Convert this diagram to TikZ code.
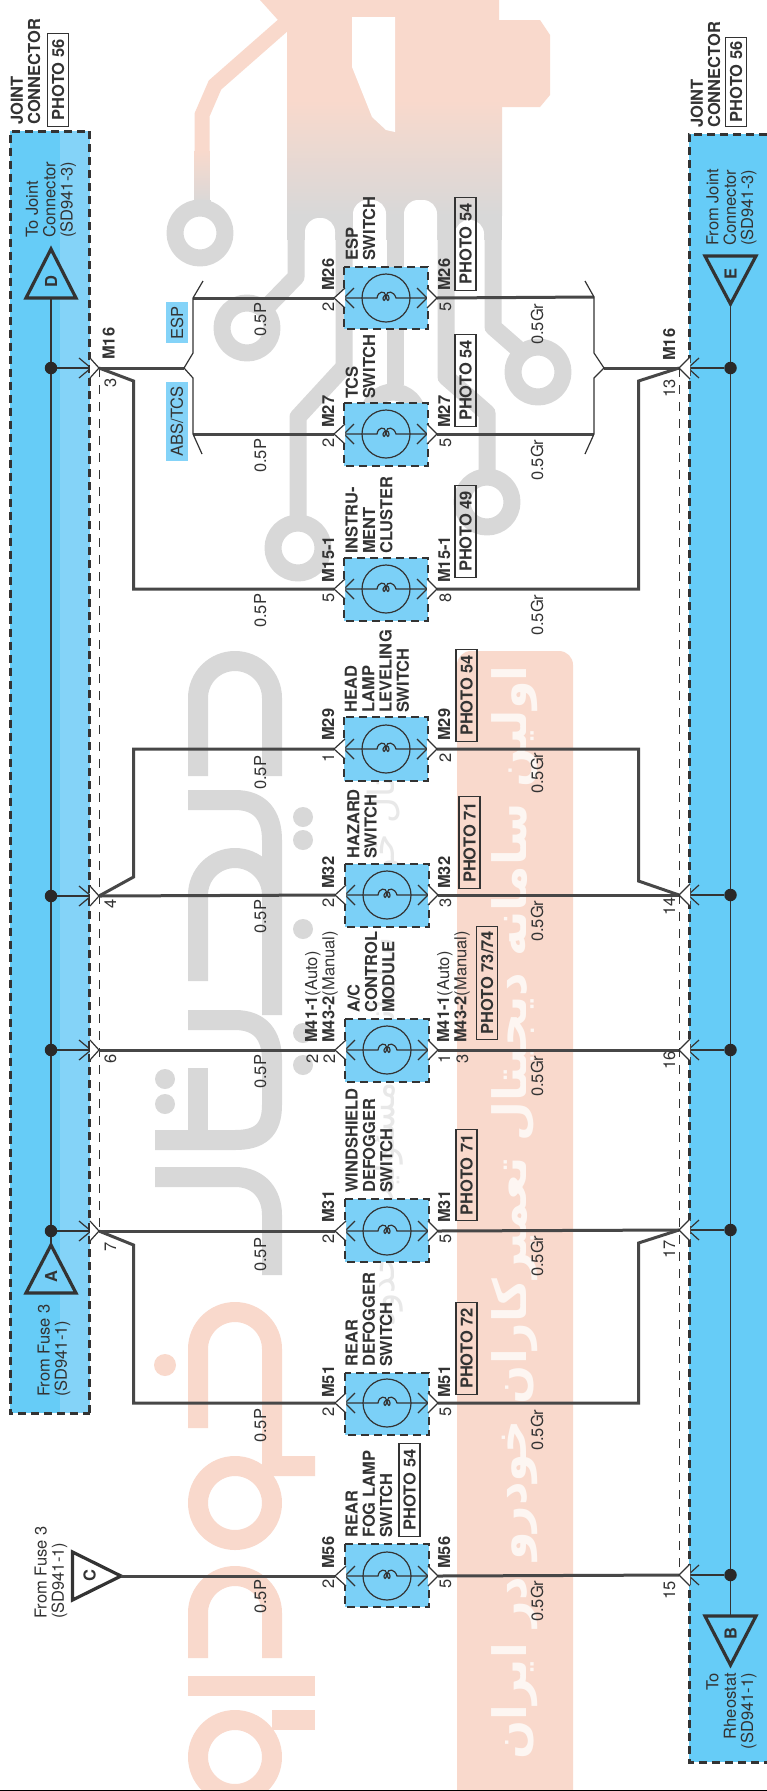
\documentclass[tikz,border=0pt]{standalone}
\usepackage{fontspec}
\setmainfont{TeX Gyre Heros}
\newfontfamily\arabicfont[Script=Arabic]{DejaVu Sans}
\TeXXeTstate=1
\definecolor{bandA}{HTML}{66CCF7}
\definecolor{bandB}{HTML}{84D3F8}
\definecolor{modfill}{HTML}{7BD0F7}
\definecolor{ink}{HTML}{333333}
\definecolor{wmg}{HTML}{D8D8D8}
\definecolor{wmp}{HTML}{F9D9CC}
\tikzset{
 wire/.style={draw=ink!90!white,line width=3pt,line join=miter},
 fine/.style={draw=ink,line width=1.2pt},
 banddash/.style={draw=ink,line width=3pt,dash pattern=on 8pt off 5pt},
 moddash/.style={draw=ink,line width=2.6pt,dash pattern=on 8pt off 5pt},
 thindash/.style={draw=ink,line width=1pt,dash pattern=on 9pt off 8pt},
 lbl/.style={rotate=90,anchor=west,inner sep=0pt,text height=12pt,text depth=0pt,text=ink,font=\fontsize{16.5}{17.3}\selectfont},
 blbl/.style={lbl,font=\fontsize{16.5}{17.3}\selectfont\bfseries},
 mlbl/.style={rotate=90,anchor=west,inner sep=0pt,align=left,text=ink,font=\fontsize{16.5}{17.3}\selectfont},
 mblbl/.style={mlbl,font=\fontsize{16.5}{17.3}\selectfont\bfseries},
 photo/.style={blbl,draw=ink,line width=1.1pt,minimum height=21pt,text height=12pt},
 tag/.style={rotate=90,anchor=center,inner sep=0pt,fill=bandB,text=ink,minimum height=22pt,font=\fontsize{16.5}{17.3}\selectfont},
 tri/.style={draw=ink,line width=3.2pt,line join=miter},
 trilet/.style={rotate=90,inner sep=0pt,text=ink,font=\fontsize{16.5}{17}\selectfont\bfseries},
 dot/.style={circle,fill=ink!80!black,inner sep=0pt,minimum size=12.5pt},
 gs/.style={draw=wmg,line width=17pt,line join=round},
 gm/.style={draw=wmg,line width=20pt,line join=round},
 pm/.style={draw=wmp,line width=20pt,line join=round},
}
\begin{document}
\begin{tikzpicture}[x=1pt,y=-1pt]
\useasboundingbox (0,0) rectangle (767,1791);
\fill[white] (0,0) rectangle (767,1791);
% ---- watermark: logo ----
\fill[wmp] (260,0) -- (499,0) -- (499,20) -- (540,20) -- (550,35) -- (550,95) -- (540,107) -- (502,107) -- (502,100) -- (287,100) -- (287,30) -- cycle;
\draw[draw=wmp,line width=15pt] (289,20) -- (215,85) -- (202,115) -- (202,150);
\shade[top color=wmp,bottom color=wmg] (287,100) rectangle (502,215);
\shade[top color=wmp,bottom color=wmg] (194.5,150) rectangle (209.5,205);
\fill[wmg] (287,215) rectangle (502,240);
\fill[white] (352,17) -- (395,17) -- (395,132) -- (386,130) -- (372,117) -- (352,67) -- cycle;
\fill[white,rounded corners=14pt] (305,218) rectangle (335,270);
\fill[white,rounded corners=14pt] (353,200) rectangle (386,270);
\fill[white,rounded corners=14pt] (404,200) rectangle (437,270);
\fill[white,rounded corners=14pt] (455,220) rectangle (484,270);
\draw[gs] (296,235) -- (296,277) -- (262,312);
\draw[gs] (344,235) -- (344,367) -- (298,417) -- (298,523);
\draw[gs] (395,235) -- (395,385);
\draw[gs] (446,235) -- (446,377) -- (487,413) -- (487,477);
\draw[gs] (493,235) -- (493,327) -- (525,355);
\draw[gs] (202,200) -- (202,210);
\foreach \rx/\ry in {200/233,247/328,393/417,538/372,298/548,487/502}{
 \draw[gs] (\rx,\ry) circle[radius=25pt];
}
% ---- watermark: large letters ----
\draw[gm] (198,776) -- (198,698) arc[start angle=180,end angle=0,radius=37pt] -- (272,776);
\draw[gm] (188,800) -- (235,800) .. controls (260,800) and (272,815) .. (272,840) -- (272,1015);
\draw[gm] (198,981) -- (198,895) arc[start angle=180,end angle=0,radius=37pt];
\draw[gm] (188,1020) -- (235,1020) .. controls (260,1020) and (272,1035) .. (272,1060) -- (272,1105) .. controls (272,1130) and (260,1140) .. (235,1140) -- (155,1140);
\draw[gm] (198,1068) -- (198,1140);
\draw[gm] (155,1177) -- (235,1177) .. controls (260,1177) and (272,1195) .. (272,1215) -- (272,1275);
\foreach \dx/\dy in {303/817,303/840,303/929,303/1033,303/1065,165/1079,165/1104}{
 \fill[wmg] (\dx,\dy) circle[radius=10pt];
}
\draw[pm] (198,1428) -- (198,1349) arc[start angle=180,end angle=0,radius=37pt] -- (272,1466) -- (315,1466);
\fill[wmp] (165,1365) circle[radius=11pt];
\draw[pm] (235,1503) circle[radius=37pt];
\draw[pm] (198,1658) -- (198,1613) arc[start angle=180,end angle=0,radius=37pt] -- (272,1658);
\draw[pm] (188,1685.5) -- (315,1685.5);
\draw[pm] (272,1720) -- (315,1720);
\draw[pm] (235,1757) circle[radius=37pt];
\node[rotate=90,anchor=east,inner sep=0pt,text=wmg!60!white,font=\fontsize{36}{38}\arabicfont] (wm1) at (385,715) {\beginR دیجیتال خودرو سامانه با مسئولیت محدود\endR};
\fill[wmp,rounded corners=14pt] (457,651) rectangle (573,1810);
\node[rotate=90,anchor=east,inner sep=0pt,text=white!75!wmp,font=\fontsize{46}{48}\arabicfont\bfseries] (wm2) at (515,665) {\beginR اولین سامانه دیجیتال تعمیرکاران خودرو در ایران\endR};
% ---- bands ----
\fill[bandA] (10,131) rectangle (60,1413);
\fill[bandB] (60,131) rectangle (89.5,1413);
\fill[bandA] (689,134) rectangle (767,1762);
\draw[banddash] (89.5,1413) -- (89.5,131) -- (10,131) -- (10,1413) -- cycle;
\draw[banddash] (767,134) -- (689,134) -- (689,1762) -- (767,1762);
% ---- coordinates ----
\coordinate (tD) at (51,298);
\coordinate (tA) at (51,1245);
\coordinate (tE) at (730.5,304);
\coordinate (tB) at (730.5,1616);
\coordinate (tC) at (121,1576);
\coordinate (ltop) at (99,368);
\coordinate (lbot) at (99,1231);
\coordinate (rtop) at (679,368);
\coordinate (rbot) at (679,1575);
% ---- buses, dashed rails ----
\draw[fine] (tD) -- (tA);
\draw[fine] (tE) -- (tB);
\draw[thindash] (ltop) -- (lbot);
\draw[thindash] (rtop) -- (rbot);
% ---- triangles ----
\draw[tri,fill=bandA] (51,249) -- (76,298) -- (26,298) -- cycle;
\draw[tri,fill=bandB!50!bandA] (51,1245) -- (76,1293) -- (26,1293) -- cycle;
\draw[tri,fill=bandA] (705,256) -- (756,256) -- (730.5,304) -- cycle;
\draw[tri,fill=bandA] (705,1616) -- (756,1616) -- (730.5,1665) -- cycle;
\draw[tri,fill=white] (72.5,1552) -- (121,1576) -- (72.5,1600) -- cycle;
\node[trilet] (lD) at (51,282) {D};
\node[trilet] (lA) at (51,1277) {A};
\node[trilet] (lE) at (730.5,274) {E};
\node[trilet] (lB) at (730.5,1634) {B};
\node[trilet] (lC) at (89.5,1576) {C};
% ---- modules ----
\foreach \n/\y/\t/\b/\d in {esp/298/267/329/0,tcs/434/403/466/0,ins/589/558/621/0,hea/749/717/781/0,haz/895/864/927/1,acm/1050/1019/1082/1,win/1231/1199/1262/1,rea/1403/1373/1435/1,fog/1576/1544/1607/1}{
 \fill[modfill] (344+\d,\t) rectangle (428+\d,\b);
 \coordinate (\n-L) at (334+\d,\y);
 \coordinate (\n-R) at (437+\d,\y);
 \coordinate (\n-a) at (344+\d,\y);
 \coordinate (\n-b) at (427+\d,\y);
 \draw[moddash] (344+\d,\t) rectangle (428+\d,\b);
 \node[circle,draw=ink,line width=1.2pt,minimum size=48pt,inner sep=0pt] (\n-c) at (386+\d,\y) {};
 \draw[fine] (\n-a) -- (377+\d,\y) .. controls (378+\d,\y-7) and (385+\d,\y-8) .. (386+\d,\y-2) .. controls (387+\d,\y+4) and (389+\d,\y+3) .. (389+\d,\y) .. controls (389+\d,\y-4) and (384+\d,\y-4) .. (383+\d,\y) .. controls (383+\d,\y+3) and (385+\d,\y+4) .. (386+\d,\y-2) .. controls (387+\d,\y-8) and (394+\d,\y-7) .. (396+\d,\y) -- (\n-b);
 \draw[fine] (354+\d,\y-10) -- (\n-a) -- (354+\d,\y+10);
 \draw[fine] (417+\d,\y-10) -- (\n-b) -- (417+\d,\y+10);
}
% ---- junctions ----
\foreach \n/\y in {a/368,b/896,c/1050,d/1231}{
 \node[dot] (ld\n) at (51,\y) {};
 \coordinate (lj\n) at (99,\y);
 \coordinate (la\n) at (91,\y);
 \draw[fine] (ld\n) -- (la\n);
 \draw[fine] (79,\y-10) -- (la\n) -- (79,\y+10);
}
\foreach \n/\y in {a/368,b/895,c/1050,d/1230,e/1575}{
 \node[dot] (rd\n) at (730.5,\y) {};
 \coordinate (rj\n) at (679,\y);
 \coordinate (ra\n) at (688,\y);
 \draw[fine] (rd\n) -- (ra\n);
 \draw[fine] (699,\y-10) -- (ra\n) -- (699,\y+10);
}
% ---- P wires ----
\coordinate (lbk) at (184,368);
\coordinate (rbk) at (604,368);
\coordinate (lesp) at (193,298);
\coordinate (ltcs) at (193,434);
\coordinate (resp) at (594,297);
\coordinate (rtcs) at (594,434);
\draw[wire] (lja) -- (lbk);
\draw[wire] (lesp) -- (esp-L);
\draw[wire] (ltcs) -- (tcs-L);
\draw[wire] (lja) -- (133.5,381) |- (ins-L);
\draw[wire] (ljb) -- (133.5,877) |- (hea-L);
\draw[wire] (ljb) -- (haz-L);
\draw[wire] (ljc) -- (acm-L);
\draw[wire] (ljd) -- (win-L);
\draw[wire] (ljd) -- (133.5,1245) |- (rea-L);
\draw[wire] (tC) -- (fog-L);
% ---- Gr wires ----
\draw[wire] (rja) -- (rbk);
\draw[wire] (esp-R) -- (resp);
\draw[wire] (tcs-R) -- (rtcs);
\draw[wire] (rja) -- (638.5,381) |- (ins-R);
\draw[wire] (rjb) -- (638.5,881) |- (hea-R);
\draw[wire] (rjb) -- (haz-R);
\draw[wire] (rjc) -- (acm-R);
\draw[wire] (rjd) -- (win-R);
\draw[wire] (rjd) -- (638.5,1243) |- (rea-R);
\draw[wire] (rje) -- (fog-R);
% ---- brackets ----
\draw[fine] (203,281) -- (lesp) -- (193,353) -- (lbk) -- (193,378) -- (ltcs) -- (202,454);
\draw[fine] (585,281) -- (resp) -- (594,353) -- (rbk) -- (594,378) -- (rtcs) -- (585,454);
% ---- chevrons ----
\foreach \n in {esp,tcs,ins,hea,haz,acm,win,rea,fog}{
 \path (\n-L) ++(11,-10) coordinate (\n-l1) ++(0,20) coordinate (\n-l2);
 \path (\n-R) ++(-10,-10) coordinate (\n-r1) ++(0,20) coordinate (\n-r2);
 \fill[white] (\n-l1) -- (\n-L) -- (\n-l2) -- cycle;
 \fill[white] (\n-r1) -- (\n-R) -- (\n-r2) -- cycle;
 \draw[fine] (\n-l1) -- (\n-L) -- (\n-l2);
 \draw[fine] (\n-r1) -- (\n-R) -- (\n-r2);
}
\foreach \n in {a,b,c,d}{
 \path (lj\n) ++(-9,-10) coordinate (lj\n-1) ++(0,20) coordinate (lj\n-2);
 \fill[white] (lj\n-1) -- (lj\n) -- (lj\n-2) -- cycle;
 \draw[fine] (lj\n-1) -- (lj\n) -- (lj\n-2);
}
\foreach \n in {a,b,c,d,e}{
 \path (rj\n) ++(11,-11) coordinate (rj\n-1) ++(0,22) coordinate (rj\n-2);
 \fill[white] (rj\n-1) -- (rj\n) -- (rj\n-2) -- cycle;
 \draw[fine] (rj\n-1) -- (rj\n) -- (rj\n-2);
}
% ---- bottom rule ----
\coordinate (ruleL) at (0,1790.5);
\coordinate (ruleR) at (767,1790.5);
\draw[black,line width=1.4pt] (ruleL) -- (ruleR);
% ---- band titles ----
\node[mblbl] (jc1) at (25.5,125) {JOINT\\CONNECTOR};
\node[photo,minimum width=93pt] (ph0) at (58,127) {PHOTO 56};
\node[mblbl] (jc2) at (705.5,128) {JOINT\\CONNECTOR};
\node[photo,minimum width=89pt] (ph0b) at (736,127) {PHOTO 56};
\node[mlbl] (t1) at (51,238) {To Joint\\Connector\\(SD941-3)};
\node[mlbl] (t2) at (731.5,246) {From Joint\\Connector\\(SD941-3)};
\node[mlbl] (t3) at (54,1397) {From Fuse 3\\(SD941-1)};
\node[mlbl] (t4) at (51,1619) {From Fuse 3\\(SD941-1)};
\node[mlbl,align=right,anchor=east] (t5) at (731.5,1673) {To\\Rheostat\\(SD941-1)};
\node[tag,minimum width=41pt] (tagE) at (177,322.5) {ESP};
\node[tag,minimum width=79pt] (tagA) at (177,421.5) {ABS/TCS};
% ---- M16 and junction numbers ----
\node[blbl] (m16a) at (108.6,360) {M16};
\node[blbl] (m16b) at (669,361) {M16};
\node[lbl] (n3) at (110,388) {3};
\node[lbl] (n4) at (110,909) {4};
\node[lbl] (n6) at (110,1064) {6};
\node[lbl] (n7) at (110,1252) {7};
\node[lbl] (n13) at (669,398) {13};
\node[lbl] (n14) at (669,916) {14};
\node[lbl] (n16) at (669,1070) {16};
\node[lbl] (n17) at (669,1259) {17};
\node[lbl] (n15) at (669,1600) {15};
% ---- wire sizes ----
\foreach \k/\p/\g in {a/337/345,b/473/481,c/628/636,d/790/794,e/934/942,f/1089/1097,g/1272/1277,h/1443/1451,i/1614/1622}{
 \node[lbl] (sp\k) at (260,\p) {0.5P};
 \node[lbl] (sg\k) at (537,\g) {0.5Gr};
}
% ---- connector ids and pins ----
\foreach \k/\m/\y/\pa/\pb/\py in {esp/M26/291/2/5/312,tcs/M27/428/2/5/448,ins/M15-1/583/5/8/603,hea/M29/741/1/2/763,haz/M32/889/2/3/908,win/M31/1223/2/5/1244,rea/M51/1398/2/5/1417,fog/M56/1569/2/5/1589}{
 \node[blbl] (\k-ml) at (328,\y) {\m};
 \node[blbl] (\k-mr) at (444,\y) {\m};
 \node[lbl] (\k-pl) at (328,\py) {\pa};
 \node[lbl] (\k-pr) at (445,\py) {\pb};
}
\node[mlbl] (acl) at (321.5,1043) {\textbf{M41-1}(Auto)\\\textbf{M43-2}(Manual)};
\node[mlbl] (acr) at (453.5,1043) {\textbf{M41-1}(Auto)\\\textbf{M43-2}(Manual)};
\node[lbl] (acp1) at (312,1064) {2};
\node[lbl] (acp2) at (329,1064) {2};
\node[lbl] (acp3) at (444,1064) {1};
\node[lbl] (acp4) at (462,1064) {3};
% ---- component names ----
\node[mblbl] (nm1) at (360.5,261) {ESP\\SWITCH};
\node[mblbl] (nm2) at (360.5,399) {TCS\\SWITCH};
\node[mblbl] (nm3) at (369,554) {INSTRU-\\MENT\\CLUSTER};
\node[mblbl] (nm4) at (377,713) {HEAD\\LAMP\\LEVELING\\SWITCH};
\node[mblbl] (nm5) at (362,859) {HAZARD\\SWITCH};
\node[mblbl] (nm6) at (371,1013) {A/C\\CONTROL\\MODULE};
\node[mblbl] (nm7) at (369,1193) {WINDSHIELD\\DEFOGGER\\SWITCH};
\node[mblbl] (nm8) at (369,1367) {REAR\\DEFOGGER\\SWITCH};
\node[mblbl] (nm9) at (369,1538) {REAR\\FOG LAMP\\SWITCH};
% ---- photo tags ----
\node[photo,minimum width=93pt] (ph1) at (465.5,291) {PHOTO 54};
\node[photo,minimum width=92pt] (ph2) at (465.5,427) {PHOTO 54};
\node[photo,minimum width=92pt] (ph3) at (465.5,578) {PHOTO 49};
\node[photo,minimum width=92pt] (ph4) at (466.5,742) {PHOTO 54};
\node[photo,minimum width=92pt] (ph5) at (469.5,889) {PHOTO 71};
\node[photo,minimum width=113pt] (ph6) at (487,1040) {PHOTO 73/74};
\node[photo,minimum width=91pt] (ph7) at (466.5,1221) {PHOTO 71};
\node[photo,minimum width=92pt] (ph8) at (466.5,1395) {PHOTO 72};
\node[photo,minimum width=93pt] (ph9) at (409.5,1537) {PHOTO 54};
\end{tikzpicture}
\end{document}
